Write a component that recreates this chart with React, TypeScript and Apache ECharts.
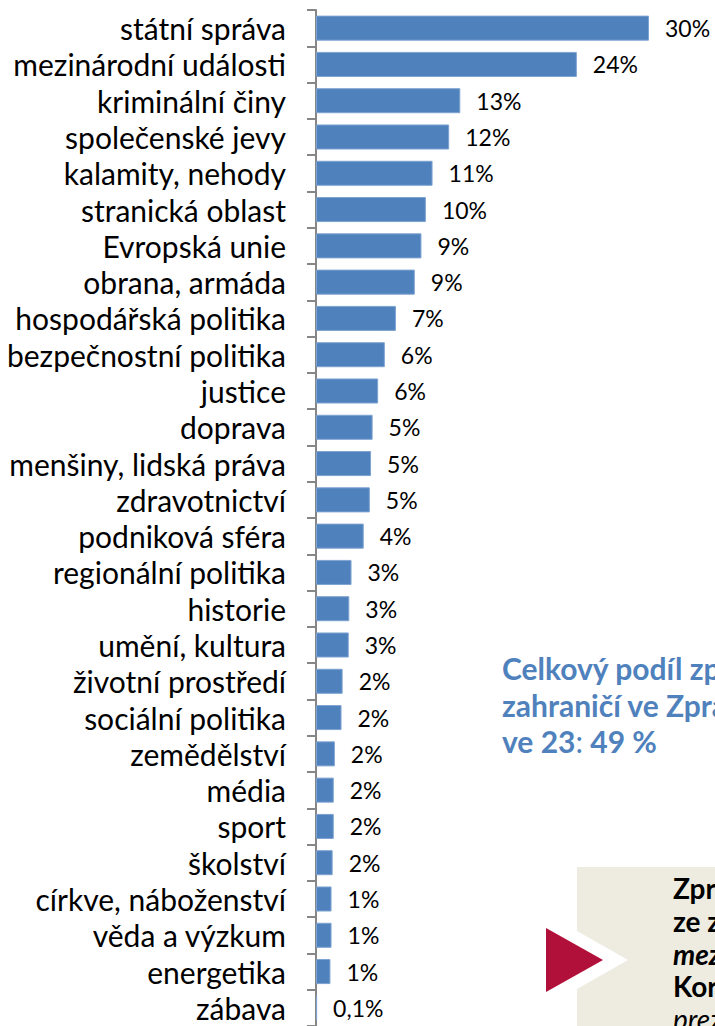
import React, { useEffect, useRef } from "react";
import * as echarts from "echarts";

const categories = [
  "státní správa",
  "mezinárodní události",
  "kriminální činy",
  "společenské jevy",
  "kalamity, nehody",
  "stranická oblast",
  "Evropská unie",
  "obrana, armáda",
  "hospodářská politika",
  "bezpečnostní politika",
  "justice",
  "doprava",
  "menšiny, lidská práva",
  "zdravotnictví",
  "podniková sféra",
  "regionální politika",
  "historie",
  "umění, kultura",
  "životní prostředí",
  "sociální politika",
  "zemědělství",
  "média",
  "sport",
  "školství",
  "církve, náboženství",
  "věda a výzkum",
  "energetika",
  "zábava",
];

const values = [
  30, 23.5, 13, 12, 10.5, 9.9, 9.5, 8.9, 7.2, 6.2, 5.6, 5.1, 4.96, 4.85, 4.3,
  3.2, 3.0, 2.95, 2.4, 2.3, 1.7, 1.6, 1.6, 1.5, 1.4, 1.4, 1.3, 0.1,
];

const valueLabels = [
  "30%", "24%", "13%", "12%", "11%", "10%", "9%", "9%", "7%", "6%", "6%",
  "5%", "5%", "5%", "4%", "3%", "3%", "3%", "2%", "2%", "2%", "2%", "2%",
  "2%", "1%", "1%", "1%", "0,1%",
];

const noteLines = ["Celkový podíl zpráv ze", "zahraničí ve Zprávách"];
const noteLast = ["ve 23", ":", " 49 %"];

const boxLines = [
  { text: "Zprávy", weight: "bold", style: "normal" },
  { text: "ze zahraničí", weight: "bold", style: "normal" },
  { text: "mezinárodní", weight: "bold", style: "italic" },
  { text: "Koronavirus", weight: "bold", style: "normal" },
  { text: "prezidentské", weight: "normal", style: "italic" },
];

export default function App() {
  const ref = useRef<HTMLDivElement>(null);

  useEffect(() => {
    document.body.style.margin = "0";
    if (!ref.current) return;
    const chart = echarts.init(ref.current, null, { renderer: "svg" });
    const font = "Lato, Carlito, 'Open Sans', sans-serif";
    const blue = "#4F81BD";

    const graphics: any[] = [];
    noteLines.forEach((t, i) => {
      graphics.push({
        type: "text",
        x: 502,
        y: 668 + i * 36.5,
        style: {
          text: t,
          fill: blue,
          font: `bold 30px ${font}`,
          verticalAlign: "middle",
        },
      });
    });
    graphics.push({
      type: "text",
      x: 502,
      y: 668 + 2 * 36.5,
      style: {
        text: `{b|${noteLast[0]}}{n|${noteLast[1]}}{b|${noteLast[2]}}`,
        verticalAlign: "middle",
        rich: {
          b: { fill: blue, fontWeight: "bold", fontSize: 30, fontFamily: font },
          n: { fill: blue, fontWeight: "normal", fontSize: 30, fontFamily: font },
        },
      },
    });
    graphics.push({
      type: "rect",
      shape: { x: 577, y: 867, width: 200, height: 200 },
      style: { fill: "#EEECE1" },
      z: 1,
    });
    graphics.push({
      type: "polygon",
      shape: { points: [[570, 927], [628, 960], [570, 993]] },
      style: { fill: "#ffffff" },
      z: 2,
    });
    graphics.push({
      type: "polygon",
      shape: { points: [[546, 928], [603, 960], [546, 992]] },
      style: { fill: "#B1103A" },
      z: 3,
    });
    boxLines.forEach((l, i) => {
      graphics.push({
        type: "text",
        x: 673,
        y: 888 + i * 32.8,
        z: 4,
        style: {
          text: l.text,
          fill: "#000",
          font: `${l.style} ${l.weight} 28px ${font}`,
          verticalAlign: "middle",
        },
      });
    });

    chart.setOption({
      animation: false,
      grid: { left: 316, top: 10, width: 333, height: 1019, containLabel: false },
      xAxis: {
        type: "value",
        min: 0,
        max: 30,
        show: false,
      },
      yAxis: {
        type: "category",
        inverse: true,
        data: categories,
        axisLine: { show: true, lineStyle: { color: "#868686", width: 2 } },
        axisTick: { show: true, length: 9, interval: 0, lineStyle: { color: "#868686", width: 2 } },
        axisLabel: {
          interval: 0,
          margin: 30,
          fontSize: 30,
          fontFamily: font,
          color: "#000",
        },
      },
      series: [
        {
          type: "bar",
          data: values,
          barCategoryGap: "31%",
          itemStyle: { color: blue, borderColor: "#7EA3D1", borderWidth: 1 },
          label: {
            show: true,
            position: "right",
            distance: 16,
            fontSize: 23,
            fontFamily: font,
            color: "#000",
            formatter: (p: any) => valueLabels[p.dataIndex],
          },
        },
      ],
      graphic: graphics,
    });
    return () => chart.dispose();
  }, []);

  return <div ref={ref} style={{ width: 715, height: 1026 }} />;
}
